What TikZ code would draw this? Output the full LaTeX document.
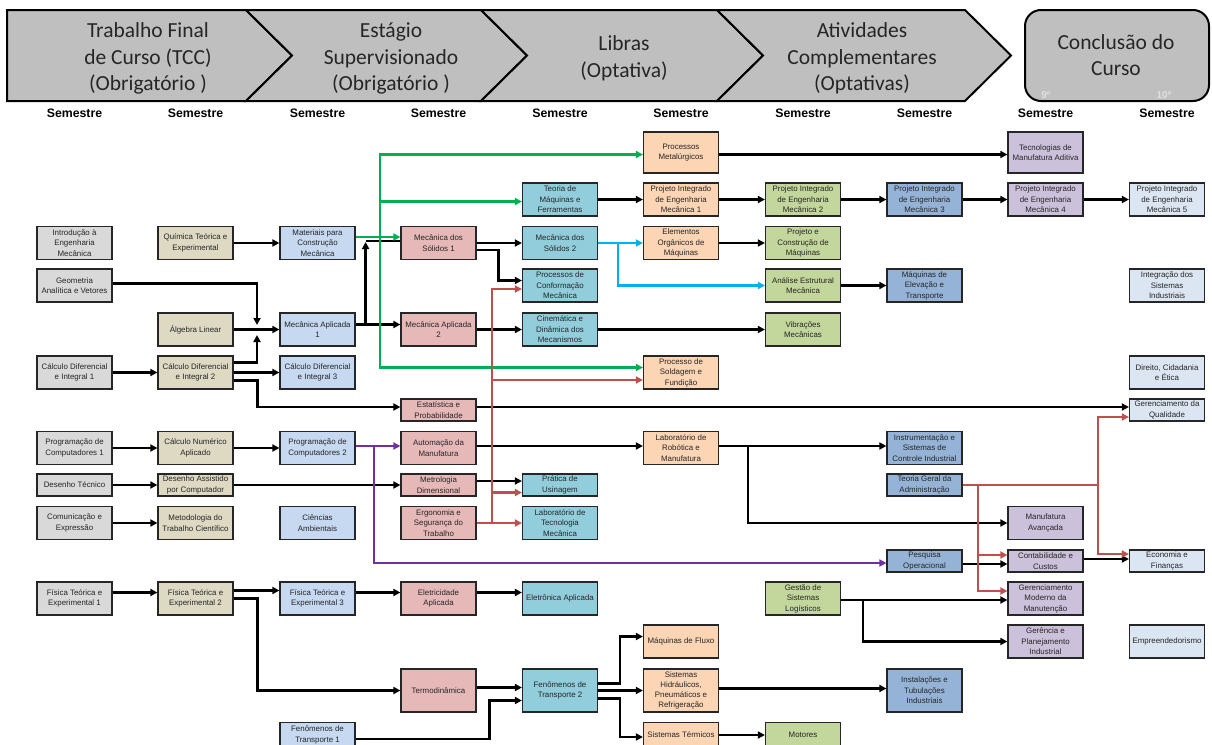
\documentclass[tikz,border=0pt]{standalone}
\usepackage{fontspec}
\setmainfont{Liberation Sans}
\newfontfamily\hdrfont{Carlito}
\usetikzlibrary{arrows.meta}
\definecolor{cA}{HTML}{D9D9D9}
\definecolor{cB}{HTML}{DDD9C3}
\definecolor{cC}{HTML}{C6D9F1}
\definecolor{cD}{HTML}{E6B9B8}
\definecolor{cE}{HTML}{92CDDC}
\definecolor{cF}{HTML}{FCD5B5}
\definecolor{cG}{HTML}{C3D69B}
\definecolor{cH}{HTML}{95B3D7}
\definecolor{cI}{HTML}{CCC1DA}
\definecolor{cJ}{HTML}{DCE6F2}
\definecolor{hdrgray}{HTML}{BFBFBF}
\definecolor{lgreen}{HTML}{00B050}
\definecolor{lred}{HTML}{C0504D}
\definecolor{lblue}{HTML}{00B0F0}
\definecolor{lpurple}{HTML}{7030A0}
\def\colA{74.5}\def\colB{195.5}\def\colC{317.5}\def\colD{438.5}\def\colE{560}
\def\colF{681}\def\colG{803}\def\colH{924.5}\def\colI{1045.5}\def\colJ{1167}
\begin{document}
\begin{tikzpicture}[x=1pt,y=-1pt,
  >={Triangle[length=7pt,width=7pt]},
  cbox/.style={draw=black!85, line width=1.2pt, minimum width=75pt, align=center,
    inner sep=0.8pt, font=\fontsize{7.9}{10.5}\selectfont, text=black!85},
  hA/.style={minimum height=22pt},
  hB/.style={minimum height=33pt},
  hC/.style={minimum height=41pt},
  hD/.style={minimum height=43pt},
  hE/.style={minimum height=25pt},
  blk/.style={draw=black, line width=2.3pt, ->},
  grn/.style={draw=lgreen, line width=2.2pt, ->},
  rd/.style={draw=lred, line width=2.2pt, ->},
  blu/.style={draw=lblue, line width=2.2pt, ->},
  pur/.style={draw=lpurple, line width=2.2pt, ->},
  hdr/.style={fill=hdrgray, draw=black, line width=2pt, line join=miter},
  htext/.style={align=center, text=black!85, font=\hdrfont\fontsize{21.5}{26.5}\selectfont},
  sem/.style={font=\bfseries\fontsize{12.3}{14}\selectfont, text=black}
]
\useasboundingbox (0,0) rectangle (1212,744);

% ---------------- header ----------------
\path[hdr] (7,10) -- (246,10) -- (292,55.5) -- (246,101) -- (7,101) -- cycle;
\path[hdr] (246,10) -- (481,10) -- (527,55.5) -- (481,101) -- (246,101) -- (292,55.5) -- cycle;
\path[hdr] (481,10) -- (717,10) -- (763,55.5) -- (717,101) -- (481,101) -- (527,55.5) -- cycle;
\path[hdr] (717,10) -- (965,10) -- (1011,55.5) -- (965,101) -- (717,101) -- (763,55.5) -- cycle;
\path[hdr, rounded corners=16pt] (1025,10) rectangle (1209,101);
\node[htext] (hTCC) at (148,58.5) {Trabalho Final\\de Curso (TCC)\\(Obrigatório )};
\node[htext] (hEst) at (391,58.5) {Estágio\\Supervisionado\\(Obrigatório )};
\node[htext] (hLib) at (624,58.5) {Libras\\(Optativa)};
\node[htext] (hAtv) at (862,58.5) {Atividades\\Complementares\\(Optativas)};
\node[htext] (hCon) at (1116,55) {Conclusão do\\Curso};
\node[font=\bfseries\fontsize{10}{12}\selectfont, text=black!12] (n9) at (1046,95) {9º};
\node[font=\bfseries\fontsize{10}{12}\selectfont, text=black!12] (n10) at (1164,95) {10º};

\node[sem] (s1) at (\colA,113) {Semestre};
\node[sem] (s2) at (\colB,113) {Semestre};
\node[sem] (s3) at (\colC,113) {Semestre};
\node[sem] (s4) at (\colD,113) {Semestre};
\node[sem] (s5) at (\colE,113) {Semestre};
\node[sem] (s6) at (\colF,113) {Semestre};
\node[sem] (s7) at (\colG,113) {Semestre};
\node[sem] (s8) at (\colH,113) {Semestre};
\node[sem] (s9) at (\colI,113) {Semestre};
\node[sem] (s10) at (\colJ,113) {Semestre};

% ---------------- boxes ----------------
% row A
\node[cbox,hC,fill=cF] (procmet) at (\colF,152.5) {Processos\\Metalúrgicos};
\node[cbox,hC,fill=cI] (tecman) at (\colI,152.5) {Tecnologias de\\Manufatura Aditiva};
% row B
\node[cbox,hB,fill=cE] (teomaq) at (\colE,199.5) {Teoria de\\Máquinas e\\Ferramentas};
\node[cbox,hB,fill=cF] (pi1) at (\colF,199.5) {Projeto Integrado\\de Engenharia\\Mecânica 1};
\node[cbox,hB,fill=cG] (pi2) at (\colG,199.5) {Projeto Integrado\\de Engenharia\\Mecânica 2};
\node[cbox,hB,fill=cH] (pi3) at (\colH,199.5) {Projeto Integrado\\de Engenharia\\Mecânica 3};
\node[cbox,hB,fill=cI] (pi4) at (\colI,199.5) {Projeto Integrado\\de Engenharia\\Mecânica 4};
\node[cbox,hB,fill=cJ] (pi5) at (\colJ,199.5) {Projeto Integrado\\de Engenharia\\Mecânica 5};
% row C
\node[cbox,hB,fill=cA] (intro) at (\colA,243) {Introdução à\\Engenharia\\Mecânica};
\node[cbox,hB,fill=cB] (quim) at (\colB,243) {Química Teórica e\\Experimental};
\node[cbox,hB,fill=cC] (mat) at (\colC,243) {Materiais para\\Construção\\Mecânica};
\node[cbox,hB,fill=cD] (ms1) at (\colD,243) {Mecânica dos\\Sólidos 1};
\node[cbox,hB,fill=cE] (ms2) at (\colE,243) {Mecânica dos\\Sólidos 2};
\node[cbox,hB,fill=cF] (elemorg) at (\colF,243) {Elementos\\Orgânicos de\\Máquinas};
\node[cbox,hB,fill=cG] (projcons) at (\colG,243) {Projeto e\\Construção de\\Máquinas};
% row D
\node[cbox,hB,fill=cA] (geom) at (\colA,285.5) {Geometria\\Analítica e Vetores};
\node[cbox,hB,fill=cE] (procconf) at (\colE,285.5) {Processos de\\Conformação\\Mecânica};
\node[cbox,hB,fill=cG] (anest) at (\colG,285.5) {Análise Estrutural\\Mecânica};
\node[cbox,hB,fill=cH] (maqelev) at (\colH,285.5) {Máquinas de\\Elevação e\\Transporte};
\node[cbox,hB,fill=cJ] (integ) at (\colJ,285.5) {Integração dos\\Sistemas\\Industriais};
% row E
\node[cbox,hB,fill=cB] (alg) at (\colB,329.5) {Álgebra Linear};
\node[cbox,hB,fill=cC] (ma1) at (\colC,329.5) {Mecânica Aplicada\\1};
\node[cbox,hB,fill=cD] (ma2) at (\colD,329.5) {Mecânica Aplicada\\2};
\node[cbox,hB,fill=cE] (cin) at (\colE,329.5) {Cinemática e\\Dinâmica dos\\Mecanismos};
\node[cbox,hB,fill=cG] (vib) at (\colG,329.5) {Vibrações\\Mecânicas};
% row F
\node[cbox,hB,fill=cA] (calc1) at (\colA,372.5) {Cálculo Diferencial\\e Integral 1};
\node[cbox,hB,fill=cB] (calc2) at (\colB,372.5) {Cálculo Diferencial\\e Integral 2};
\node[cbox,hB,fill=cC] (calc3) at (\colC,372.5) {Cálculo Diferencial\\e Integral 3};
\node[cbox,hB,fill=cF] (sold) at (\colF,372.5) {Processo de\\Soldagem e\\Fundição};
\node[cbox,hB,fill=cJ] (direito) at (\colJ,372.5) {Direito, Cidadania\\e Ética};
% row G
\node[cbox,hA,fill=cD] (estat) at (\colD,410) {Estatística e\\Probabilidade};
\node[cbox,hA,fill=cJ] (gerqual) at (\colJ,410) {Gerenciamento da\\Qualidade};
% row H
\node[cbox,hB,fill=cA] (prog1) at (\colA,448) {Programação de\\Computadores 1};
\node[cbox,hB,fill=cB] (calcnum) at (\colB,448) {Cálculo Numérico\\Aplicado};
\node[cbox,hB,fill=cC] (prog2) at (\colC,448) {Programação de\\Computadores 2};
\node[cbox,hB,fill=cD] (autom) at (\colD,448) {Automação da\\Manufatura};
\node[cbox,hB,fill=cF] (labrob) at (\colF,448) {Laboratório de\\Robótica e\\Manufatura};
\node[cbox,hB,fill=cH] (instr) at (\colH,448) {Instrumentação e\\Sistemas de\\Controle Industrial};
% row I
\node[cbox,hA,fill=cA] (destec) at (\colA,485) {Desenho Técnico};
\node[cbox,hA,fill=cB] (dac) at (\colB,485) {Desenho Assistido\\por Computador};
\node[cbox,hA,fill=cD] (metro) at (\colD,485) {Metrologia\\Dimensional};
\node[cbox,hA,fill=cE] (pratusi) at (\colE,485) {Prática de\\Usinagem};
\node[cbox,hA,fill=cH] (tga) at (\colH,485) {Teoria Geral da\\Administração};
% row J
\node[cbox,hB,fill=cA] (com) at (\colA,523) {Comunicação e\\Expressão};
\node[cbox,hB,fill=cB] (metod) at (\colB,523) {Metodologia do\\Trabalho Científico};
\node[cbox,hB,fill=cC] (cienamb) at (\colC,523) {Ciências\\Ambientais};
\node[cbox,hB,fill=cD] (ergo) at (\colD,523) {Ergonomia e\\Segurança do\\Trabalho};
\node[cbox,hB,fill=cE] (labtec) at (\colE,523) {Laboratório de\\Tecnologia\\Mecânica};
\node[cbox,hB,fill=cI] (manav) at (\colI,523) {Manufatura\\Avançada};
% row K
\node[cbox,hA,fill=cH] (pesqop) at (\colH,561) {Pesquisa\\Operacional};
\node[cbox,hA,fill=cI] (contab) at (\colI,561) {Contabilidade e\\Custos};
\node[cbox,hA,fill=cJ] (econ) at (\colJ,561) {Economia e\\Finanças};
% row L
\node[cbox,hB,fill=cA] (fis1) at (\colA,598.5) {Física Teórica e\\Experimental 1};
\node[cbox,hB,fill=cB] (fis2) at (\colB,598.5) {Física Teórica e\\Experimental 2};
\node[cbox,hB,fill=cC] (fis3) at (\colC,598.5) {Física Teórica e\\Experimental 3};
\node[cbox,hB,fill=cD] (eletric) at (\colD,598.5) {Eletricidade\\Aplicada};
\node[cbox,hB,fill=cE] (eletron) at (\colE,598.5) {Eletrônica Aplicada};
\node[cbox,hB,fill=cG] (gestao) at (\colG,598.5) {Gestão de\\Sistemas\\Logísticos};
\node[cbox,hB,fill=cI] (german) at (\colI,598.5) {Gerenciamento\\Moderno da\\Manutenção};
% row M
\node[cbox,hB,fill=cF] (maqflux) at (\colF,641.5) {Máquinas de Fluxo};
\node[cbox,hB,fill=cI] (gerplan) at (\colI,641.5) {Gerência e\\Planejamento\\Industrial};
\node[cbox,hB,fill=cJ] (empreend) at (\colJ,641.5) {Empreendedorismo};
% row N
\node[cbox,hD,fill=cD] (termo) at (\colD,690.5) {Termodinâmica};
\node[cbox,hD,fill=cE] (fen2) at (\colE,690.5) {Fenômenos de\\Transporte 2};
\node[cbox,hD,fill=cF,font=\fontsize{7.9}{10}\selectfont] (sishid) at (\colF,690.5) {Sistemas\\Hidráulicos,\\Pneumáticos e\\Refrigeração};
\node[cbox,hD,fill=cH] (instal) at (\colH,690.5) {Instalações e\\Tubulações\\Industriais};
% row O
\node[cbox,hE,fill=cC] (fen1) at (\colC,735) {Fenômenos de\\Transporte 1};
\node[cbox,hE,fill=cF] (sisterm) at (\colF,735) {Sistemas Térmicos};
\node[cbox,hE,fill=cG] (motores) at (\colG,735) {Motores};

% ---------------- connectors ----------------
\coordinate (jA) at (257,330);
\coordinate (gj) at (380,237);

% black
\draw[blk] (quim.east) -- (mat.west);
\draw[blk] (alg.east) -- (ma1.west);
\draw[blk] ([yshift=2]geom.east) -| ([yshift=5]jA);
\draw[blk] ([yshift=10]calc2.east) -| ([yshift=-5]jA);
\draw[blk] (calc1.east) -- (calc2.west);
\draw[blk] (calc2.east) -- (calc3.west);
\draw[blk] ([yshift=-8]calc2.east) -- ++(24,0) |- ([yshift=3]estat.west);
\draw[blk] (prog1.east) -- (calcnum.west);
\draw[blk] (calcnum.east) -- (prog2.west);
\draw[blk] (destec.east) -- (dac.west);
\draw[blk] (dac.east) -- (metro.west);
\draw[blk] (com.east) -- (metod.west);
\draw[blk] ([yshift=5]ma1.east) -- ([yshift=5]ma2.west);
\draw[blk] ([yshift=5]ma1.east) -| ([xshift=10,yshift=1]mat.east);
\draw[blk,-] ([xshift=10,yshift=2]mat.east) -- ([yshift=2]ms1.west);
\draw[blk] (ms1.east) -- (ms2.west);
\draw[blk] ([yshift=-7]ms1.east) -- ++(22,0) |- ([yshift=5]procconf.west);
\draw[blk] (ma2.east) -- (cin.west);
\draw[blk] (cin.east) -- (vib.west);
\draw[blk] (teomaq.east) -- (pi1.west);
\draw[blk] (pi1.east) -- (pi2.west);
\draw[blk] (pi2.east) -- (pi3.west);
\draw[blk] (pi3.east) -- (pi4.west);
\draw[blk] (pi4.east) -- (pi5.west);
\draw[blk] (elemorg.east) -- (projcons.west);
\draw[blk] (anest.east) -- (maqelev.west);
\draw[blk] ([yshift=-2]procmet.east) -- ([yshift=-2]tecman.west);
\draw[blk] ([yshift=3]estat.east) -- ([yshift=3]gerqual.west);
\draw[blk] ([yshift=2]autom.east) -- ([yshift=2]labrob.west);
\draw[blk] ([yshift=2]labrob.east) -- ([yshift=2]instr.west);
\draw[blk] ([yshift=2]labrob.east) -- ++(29,0) |- (manav.west);
\draw[blk] ([yshift=4]metro.east) -- ([yshift=4]pratusi.west);
\draw[blk] ([yshift=-3]pesqop.east) -- ([yshift=-3]contab.west);
\draw[blk] ([yshift=2]contab.east) -- ([yshift=2]econ.west);
\draw[blk] ([yshift=-1.5]gestao.east) -- ([yshift=-1.5]german.west);
\draw[blk] ([yshift=-1.5]gestao.east) -- ++(22,0) |- (gerplan.west);
\draw[blk] ([yshift=6]fis1.east) -- ([yshift=6]fis2.west);
\draw[blk] ([yshift=8]fis2.east) -- ([yshift=8]fis3.west);
\draw[blk] ([yshift=6]fis3.east) -- ([yshift=6]eletric.west);
\draw[blk] ([yshift=6]eletric.east) -- ([yshift=6]eletron.west);
\draw[blk] (fis2.east) -- ++(24,0) |- (termo.west);
\draw[blk] ([yshift=3]termo.east) -- ([yshift=3]fen2.west);
\draw[blk] ([yshift=-4]fen1.east) -- ++(134,0) |- ([yshift=-10]fen2.west);
\draw[blk] ([yshift=7]fen2.east) -- ++(22,0) |- ([yshift=5]maqflux.west);
\draw[blk] (fen2.east) -- (sishid.west);
\draw[blk] ([yshift=-8]fen2.east) -- ++(22,0) |- ([yshift=-2]sisterm.west);
\draw[blk] (sisterm.east) -- (motores.west);
\draw[blk] ([yshift=2]sishid.east) -- ([yshift=2]instal.west);

% green
\draw[grn] ([yshift=6]mat.east) -- ([yshift=6]ms1.west);
\draw[grn] (gj) |- ([yshift=-2]procmet.west);
\draw[grn] (gj) |- ([yshift=-2]teomaq.west);
\draw[grn] (gj) |- ([yshift=5]sold.west);

% blue
\draw[blu] (ms2.east) -- (elemorg.west);
\draw[blu] ([xshift=20]ms2.east) |- (anest.west);

% purple
\draw[pur] ([yshift=2]prog2.east) -- ([yshift=2]autom.west);
\draw[pur] ([xshift=18,yshift=2]prog2.east) |- ([yshift=-2]pesqop.west);

% red
\draw[rd] (ergo.east) -- (labtec.west);
\draw[rd] ([xshift=15]ergo.east) |- ([yshift=-3.5]procconf.west);
\draw[rd] ([xshift=15]ergo.east) |- ([yshift=-7.5]sold.west);
\draw[rd] ([xshift=15]ergo.east) |- ([yshift=-7.5]pratusi.west);
\draw[rd] (tga.east) -- ++(135,0) |- ([yshift=-7]gerqual.west);
\draw[rd] ([xshift=135]tga.east) |- ([yshift=7]econ.west);
\draw[rd] ([xshift=15]tga.east) |- ([yshift=6]contab.west);
\draw[rd] ([xshift=15]tga.east) |- ([yshift=7.5]german.west);
\end{tikzpicture}
\end{document}
